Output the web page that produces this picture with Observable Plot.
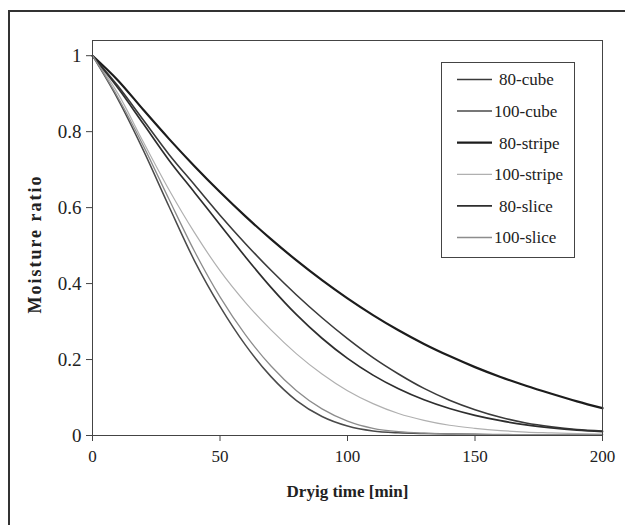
<!DOCTYPE html>
<html>
<head>
<meta charset="utf-8">
<script src="https://cdn.jsdelivr.net/npm/d3@7"></script>
<script src="https://cdn.jsdelivr.net/npm/@observablehq/plot@0.6"></script>
<style>
  body { margin: 0; background: #fff; }
  #wrap { position: relative; width: 625px; height: 525px; overflow: hidden; background: #fff; }
  #border { position: absolute; left: 8px; top: 10px; width: 700px; height: 600px;
            border-left: 2px solid #333; border-top: 2px solid #333; pointer-events: none; }
  #chart { position: absolute; left: 0; top: 0; }
  #legend { position: absolute; left: 441px; top: 62px; width: 134px; height: 196px;
            border: 1px solid #444; box-sizing: border-box; background: #fff; }
</style>
</head>
<body>
<div id="wrap">
  <div id="chart"></div>
  <div id="border"></div>
  <div id="legend"></div>
</div>
<script>
// Drying time [min]
const time = [0, 10, 20, 30, 40, 50, 60, 70, 80, 90, 100, 110, 120, 130, 140, 150, 160, 170, 180, 190, 200];

// Moisture ratio series
const mr80cube   = [1, 0.92, 0.83, 0.74, 0.66, 0.58, 0.505, 0.435, 0.37, 0.31, 0.255, 0.205, 0.162, 0.124, 0.093, 0.068, 0.048, 0.033, 0.023, 0.016, 0.012];
const mr100cube  = [1, 0.885, 0.75, 0.603, 0.46, 0.34, 0.238, 0.155, 0.092, 0.05, 0.025, 0.012, 0.007, 0.005, 0.004, 0.003, 0.002, 0.002, 0.002, 0.002, 0.002];
const mr80stripe = [1, 0.935, 0.857, 0.781, 0.709, 0.641, 0.577, 0.517, 0.461, 0.409, 0.361, 0.317, 0.277, 0.241, 0.209, 0.18, 0.154, 0.131, 0.11, 0.09, 0.072];
const mr100stripe= [1, 0.9, 0.772, 0.647, 0.534, 0.434, 0.35, 0.278, 0.215, 0.162, 0.118, 0.084, 0.058, 0.04, 0.027, 0.019, 0.013, 0.009, 0.007, 0.005, 0.004];
const mr80slice  = [1, 0.915, 0.82, 0.725, 0.64, 0.555, 0.47, 0.39, 0.318, 0.256, 0.203, 0.159, 0.123, 0.094, 0.071, 0.053, 0.039, 0.028, 0.02, 0.014, 0.01];
const mr100slice = [1, 0.89, 0.762, 0.622, 0.485, 0.365, 0.265, 0.183, 0.118, 0.07, 0.038, 0.019, 0.01, 0.006, 0.004, 0.003, 0.003, 0.002, 0.002, 0.002, 0.002];

const seriesNames = ["80-cube", "100-cube", "80-stripe", "100-stripe", "80-slice", "100-slice"];
const seriesValues = [mr80cube, mr100cube, mr80stripe, mr100stripe, mr80slice, mr100slice];

const xTicks = [0, 50, 100, 150, 200];
const yTicks = [0, 0.2, 0.4, 0.6, 0.8, 1];
const yTickLabels = ["0", "0.2", "0.4", "0.6", "0.8", "1"];

const xTitle = "Dryig time [min]";
const yTitle = "Moisture ratio";

// styles
const styles = {
  "80-cube":    {stroke: "#3a3a3a", width: 1.6},
  "100-cube":   {stroke: "#4a4a4a", width: 1.5},
  "80-stripe":  {stroke: "#1c1c1c", width: 2.2},
  "100-stripe": {stroke: "#b0b0b0", width: 1.2},
  "80-slice":   {stroke: "#2e2e2e", width: 1.7},
  "100-slice":  {stroke: "#8c8c8c", width: 1.3}
};

const data = seriesNames.flatMap((name, k) =>
  time.map((t, i) => ({t, mr: seriesValues[k][i], name})));

const font = "'Liberation Serif', 'Times New Roman', serif";

const chart = Plot.plot({
  width: 625,
  height: 525,
  marginLeft: 92,
  marginRight: 23,
  marginTop: 40,
  marginBottom: 90,
  style: {fontFamily: font, fontSize: "17px", color: "#222", background: "transparent"},
  x: {domain: [0, 200]},
  y: {domain: [0, 1.04]},
  marks: [
    ...seriesNames.map(name => Plot.line(data.filter(d => d.name === name), {
      x: "t", y: "mr", stroke: styles[name].stroke, strokeWidth: styles[name].width, curve: "monotone-x"
    })),
    Plot.frame({stroke: "#444", strokeWidth: 1}),
    Plot.axisX({ticks: xTicks, tickSize: 6, tickPadding: 8, label: null, fontSize: 17, fontFamily: font, stroke: "#444"}),
    Plot.axisY({ticks: yTicks, tickFormat: d => yTickLabels[yTicks.indexOf(d)], tickSize: 6, tickPadding: 5,
                label: null, fontSize: 19, fontFamily: font, stroke: "#444"}),
    Plot.text([xTitle], {frameAnchor: "bottom", dy: 56, text: d => d, fontWeight: "bold", textAnchor: "middle",
                         fontSize: 17, fontFamily: font, fill: "#222", lineAnchor: "middle"}),
    Plot.text([yTitle], {frameAnchor: "left", dx: -57, dy: 6, rotate: -90, text: d => d, fontWeight: "bold",
                         textAnchor: "middle", fontSize: 18, fontFamily: font, fill: "#222", lineAnchor: "middle"})
  ]
});
// widen the letter spacing of the y title, as in the scanned original
d3.select(chart).selectAll("text").filter(function() { return this.textContent === yTitle; })
  .attr("letter-spacing", "2px");
document.getElementById("chart").appendChild(chart);

// legend
const legend = document.getElementById("legend");
const ns = "http://www.w3.org/2000/svg";
const lsvg = document.createElementNS(ns, "svg");
lsvg.setAttribute("width", 132);
lsvg.setAttribute("height", 194);
seriesNames.forEach((name, i) => {
  const y = 16.5 + i * 31.6;
  const line = document.createElementNS(ns, "line");
  line.setAttribute("x1", 15); line.setAttribute("x2", 50);
  line.setAttribute("y1", y); line.setAttribute("y2", y);
  line.setAttribute("stroke", styles[name].stroke);
  line.setAttribute("stroke-width", styles[name].width);
  lsvg.appendChild(line);
  const tx = document.createElementNS(ns, "text");
  tx.setAttribute("x", name.startsWith("100") ? 52 : 57);
  tx.setAttribute("y", y);
  tx.setAttribute("dy", "0.35em");
  tx.setAttribute("font-family", font);
  tx.setAttribute("font-size", "17");
  tx.setAttribute("fill", "#222");
  tx.textContent = name;
  lsvg.appendChild(tx);
});
legend.appendChild(lsvg);
</script>
</body>
</html>
